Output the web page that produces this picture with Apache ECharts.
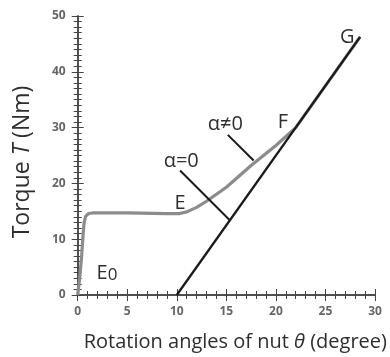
<!DOCTYPE html>
<html><head><meta charset="utf-8">
<script src="https://cdn.jsdelivr.net/npm/echarts@6/dist/echarts.min.js"></script>
<style>html,body{margin:0;padding:0;background:#fff;overflow:hidden}#c{width:390px;height:357px}</style>
</head><body><div id="c"></div>
<script>
// Data
const xTicks = [0, 5, 10, 15, 20, 25, 30];
const yTicks = [0, 10, 20, 30, 40, 50];
const curveAlphaNonZero = [[0,0],[0.2,3],[0.4,7],[0.55,11],[0.65,13],[0.8,14.1],[1.1,14.6],[1.5,14.7],[5,14.7],[9,14.6],[10.3,14.6],[11,14.9],[12,15.7],[13,16.8],[15,19.3],[17.5,23.2],[20,26.8],[22,30],[28.5,46.25]];
const lineAlphaZero = [[10,0],[28.5,46.25]];
const pointLabels = [
  {name:'G', coord:[27.2,46.2]},
  {name:'F', coord:[20.7,31.0]},
  {name:'E', coord:[10.33,16.4]},
  {name:'α≠0', coord:[14.9,30.6]},
  {name:'α=0', coord:[10.45,24.0]}
];
const leaderLines = [
  [[15.15,28.7],[17.75,24.1]],
  [[10.33,22.3],[15.4,13.3]]
];
const e0Label = [2.96, 3.8];

const chart = echarts.init(document.getElementById('c'));
const FONT = 'Open Sans';
const TXT = '#2e2e2e';
const axisLine = {show:true, lineStyle:{color:'#444', width:1.5}};
const tick = {inside:true, length:6, lineStyle:{color:'#444', width:1}};
const minor = (n) => ({show:true, splitNumber:n, length:4, lineStyle:{color:'#444', width:1}});
chart.setOption({
  animation:false,
  textStyle:{fontFamily:FONT},
  grid:{left:77.7, right:15, top:16, bottom:52, containLabel:false},
  xAxis:[{
    type:'value', min:xTicks[0], max:xTicks[xTicks.length-1], interval:5,
    axisLine, splitLine:{show:false}, axisTick:tick, minorTick:minor(5),
    axisLabel:{color:'#666', fontSize:12, margin:11, fontWeight:'bold'},
    name:'{a|Rotation angles of nut }{i|θ}{a| (degree)}', nameLocation:'middle', nameGap:37,
    nameTextStyle:{padding:[0,0,0,18], rich:{a:{fontSize:20,color:TXT,fontFamily:FONT}, i:{fontSize:20,color:TXT,fontStyle:'italic',fontFamily:FONT}}}
  },{
    type:'value', position:'top', min:0, max:30, interval:5,
    axisLine, splitLine:{show:false}, axisLabel:{show:false}, axisTick:tick, minorTick:minor(5)
  }],
  yAxis:[{
    type:'value', min:yTicks[0], max:yTicks[yTicks.length-1], interval:10,
    axisLine, splitLine:{show:false}, axisTick:tick, minorTick:minor(10),
    axisLabel:{color:'#666', fontSize:12, margin:12, fontWeight:'bold'},
    name:'{a|Torque }{i|T}{a| (Nm)}', nameLocation:'middle', nameGap:44,
    nameTextStyle:{padding:[0,13,0,0], rich:{a:{fontSize:23,color:TXT,fontFamily:FONT}, i:{fontSize:23,color:TXT,fontStyle:'italic',fontFamily:FONT}}}
  },{
    type:'value', position:'right', min:0, max:50, interval:10,
    axisLine, splitLine:{show:false}, axisLabel:{show:false}, axisTick:tick, minorTick:minor(10)
  }],
  series:[
    {
      type:'line', name:'α≠0', data:curveAlphaNonZero, showSymbol:false, symbol:'none',
      lineStyle:{color:'#8c8c8c', width:3.2}, z:2
    },
    {
      type:'line', name:'α=0', data:lineAlphaZero, showSymbol:false, symbol:'none',
      lineStyle:{color:'#1a1a1a', width:2.3}, z:3,
      markLine:{
        silent:true, symbol:['none','none'], animation:false,
        lineStyle:{color:'#1a1a1a', width:2, type:'solid'}, label:{show:false},
        data: leaderLines.map(l => [{coord:l[0]},{coord:l[1]}])
      },
      markPoint:{
        silent:true, symbol:'circle', symbolSize:0.01,
        label:{show:true, position:'inside', color:TXT, fontSize:20, fontFamily:FONT,
          formatter: p => p.name},
        data: pointLabels.map(p => ({name:p.name, coord:p.coord})).concat([
          {name:'E0', coord:e0Label, label:{formatter:'{e|E}{s|0}', rich:{e:{fontSize:20,color:TXT,fontFamily:FONT}, s:{fontSize:17,color:TXT,fontFamily:FONT, verticalAlign:'bottom', padding:[3,0,0,0]}}}}
        ])
      }
    }
  ]
});
</script></body></html>
